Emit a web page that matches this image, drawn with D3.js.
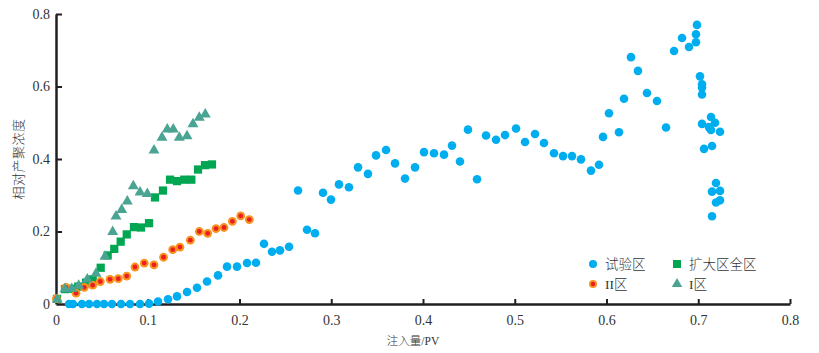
<!DOCTYPE html>
<html>
<head>
<meta charset="utf-8">
<script src="https://cdn.jsdelivr.net/npm/d3@7"></script>
<style>
  body { margin: 0; background: #fff; }
  svg text { fill: #231f20; }
  .tick text { font-family: "Liberation Serif", "DejaVu Serif", serif; font-size: 14px; }
  .cjk { font-family: "Liberation Serif", "Noto Sans CJK SC", serif; font-weight: 300; }
</style>
</head>
<body>
<svg id="chart" width="819" height="353"></svg>
<script>
// 试验区
const trial = [
  [0.0142,0],[0.0185,0],[0.0283,0],[0.036,0],[0.0447,0],[0.0523,0],[0.061,0],[0.0709,0],
  [0.0807,0],[0.0916,0],[0.1014,0.001],[0.1112,0.007],[0.1221,0.013],[0.1319,0.021],[0.1428,0.033],
  [0.1537,0.045],[0.1646,0.062],[0.1766,0.079],[0.1864,0.103],[0.1973,0.103],[0.2082,0.113],
  [0.218,0.114],[0.2267,0.166],[0.2354,0.144],[0.2441,0.148],[0.254,0.158],[0.2638,0.313],
  [0.2736,0.205],[0.2823,0.195],[0.291,0.307],[0.2997,0.288],[0.3084,0.33],[0.3193,0.322],
  [0.3292,0.377],[0.34,0.359],[0.3488,0.41],[0.3597,0.425],[0.3695,0.388],[0.3804,0.346],
  [0.3913,0.377],[0.4011,0.419],[0.412,0.416],[0.4229,0.412],[0.4316,0.437],[0.4403,0.393],
  [0.449,0.481],[0.4589,0.344],[0.4687,0.465],[0.4796,0.453],[0.4894,0.466],[0.5014,0.484],
  [0.5112,0.447],[0.5221,0.469],[0.5319,0.444],[0.5428,0.416],[0.5526,0.408],[0.5624,0.408],
  [0.5722,0.399],[0.5831,0.368],[0.5918,0.384],[0.5962,0.461],[0.6027,0.526],[0.6136,0.474],
  [0.6191,0.566],[0.6267,0.681],[0.6343,0.643],[0.6441,0.582],[0.655,0.56],[0.6649,0.487],
  [0.6736,0.698],[0.6823,0.734],[0.6899,0.709],[0.6975,0.722],[0.6975,0.744],[0.6986,0.77],
  [0.7019,0.628],[0.7041,0.606],[0.7041,0.597],[0.7041,0.578],[0.7041,0.497],[0.7117,0.488],
  [0.7139,0.516],[0.7139,0.48],[0.7183,0.5],[0.7237,0.475],[0.7063,0.428],[0.715,0.436],
  [0.7193,0.334],[0.715,0.31],[0.7237,0.312],[0.7193,0.28],[0.7237,0.286],[0.715,0.242]
];
// 扩大区全区
const expanded = [
  [0.0011,0.014],[0.0098,0.041],[0.0174,0.042],[0.0243,0.048],[0.0327,0.059],[0.04,0.068],
  [0.0487,0.1],[0.0563,0.134],[0.0635,0.152],[0.0705,0.172],[0.0771,0.192],[0.085,0.212],
  [0.0926,0.211],[0.1014,0.223],[0.1079,0.294],[0.1166,0.313],[0.1243,0.343],[0.1319,0.339],
  [0.1398,0.343],[0.1475,0.343],[0.1548,0.371],[0.1624,0.383],[0.17,0.385]
];
// II区
const zone2 = [
  [0.0005,0.015],[0.0109,0.046],[0.0218,0.03],[0.0308,0.046],[0.04,0.052],[0.0483,0.062],
  [0.0589,0.068],[0.0679,0.07],[0.0771,0.077],[0.0861,0.102],[0.0962,0.113],[0.1068,0.108],
  [0.1172,0.129],[0.1272,0.15],[0.1351,0.157],[0.1464,0.176],[0.1562,0.2],[0.1653,0.195],
  [0.1744,0.208],[0.1831,0.211],[0.1922,0.228],[0.2013,0.243],[0.2107,0.233]
];
// I区
const zone1 = [
  [0.0014,0.013],[0.0098,0.041],[0.0171,0.042],[0.0247,0.051],[0.0341,0.068],[0.0436,0.084],
  [0.0534,0.131],[0.0618,0.199],[0.0654,0.242],[0.0716,0.26],[0.0777,0.283],[0.0843,0.325],
  [0.0916,0.308],[0.0995,0.304],[0.1068,0.424],[0.1155,0.459],[0.1213,0.482],[0.1278,0.482],
  [0.1344,0.459],[0.1428,0.463],[0.1493,0.496],[0.1562,0.514],[0.1627,0.523]
];
const xTicks = [0, 0.1, 0.2, 0.3, 0.4, 0.5, 0.6, 0.7, 0.8];
const yTicks = [0, 0.2, 0.4, 0.6, 0.8];

const svg = d3.select("#chart");
const ink = "#231f20";

const x = d3.scaleLinear().domain([0, 0.8]).range([56, 790]);
const y = d3.scaleLinear().domain([0, 0.8]).range([304, 14]);

const fmt = d => d === 0 ? "0" : d3.format(".1f")(d);

// axes with inward ticks
const xAxis = svg.append("g")
  .attr("transform", "translate(0,304)")
  .call(d3.axisBottom(x).tickValues(xTicks).tickFormat(fmt).tickSizeInner(-5).tickSizeOuter(0).tickPadding(11));
const yAxis = svg.append("g")
  .attr("transform", "translate(56,0)")
  .call(d3.axisLeft(y).tickValues(yTicks).tickFormat(fmt).tickSizeInner(-6).tickSizeOuter(0).tickPadding(6));

[xAxis, yAxis].forEach(g => {
  g.select(".domain").attr("stroke", ink).attr("stroke-width", 2.5);
  g.selectAll(".tick line").attr("stroke", ink).attr("stroke-width", 2);
  g.selectAll(".tick text").style("fill", "#333");
});
xAxis.selectAll(".tick").filter(d => d === 0).select("line").remove();
yAxis.selectAll(".tick").filter(d => d === 0).select("line").remove();

// axis titles
svg.append("text").attr("class", "cjk")
  .attr("x", 413).attr("y", 345)
  .attr("text-anchor", "middle")
  .style("font-size", "11.5px")
  .style("fill", "#333")
  .text("注入量/PV");

svg.append("text").attr("class", "cjk")
  .attr("transform", "translate(23,159) rotate(-90)")
  .attr("text-anchor", "middle")
  .style("font-size", "13px")
  .style("letter-spacing", "0.5px")
  .style("fill", "#333")
  .text("相对产聚浓度");

const sym = (type, size) => d3.symbol().type(type).size(size)();

const plot = svg.append("g");

plot.selectAll(".trial").data(trial).enter().append("circle")
  .attr("cx", d => x(d[0])).attr("cy", d => y(d[1]))
  .attr("r", 4.3).attr("fill", "#00aeef");

plot.selectAll(".exp").data(expanded).enter().append("path")
  .attr("transform", d => `translate(${x(d[0])},${y(d[1])})`)
  .attr("d", sym(d3.symbolSquare, 68)).attr("fill", "#00a651");

const z2 = plot.selectAll(".z2").data(zone2).enter().append("g")
  .attr("transform", d => `translate(${x(d[0])},${y(d[1])})`);
z2.append("circle").attr("r", 4.4).attr("fill", "#f7941d");
z2.append("circle").attr("r", 2.4).attr("fill", "#ed1c24");

plot.selectAll(".z1").data(zone1).enter().append("path")
  .attr("transform", d => `translate(${x(d[0])},${y(d[1])})`)
  .attr("d", sym(d3.symbolTriangle, 52)).attr("fill", "#4aa493");

// legend
const legend = svg.append("g");
const items = [
  {label: "试验区", lx: 593, ly: 264, kind: "trial"},
  {label: "扩大区全区", lx: 677, ly: 264, kind: "exp"},
  {label: "II区", lx: 593, ly: 284, kind: "z2"},
  {label: "I区", lx: 677, ly: 284, kind: "z1"}
];
items.forEach(it => {
  const g = legend.append("g").attr("transform", `translate(${it.lx},${it.ly})`);
  if (it.kind === "trial") g.append("circle").attr("r", 4).attr("fill", "#00aeef");
  if (it.kind === "exp") g.append("path").attr("d", sym(d3.symbolSquare, 64)).attr("fill", "#00a651");
  if (it.kind === "z2") {
    g.append("circle").attr("r", 4).attr("fill", "#f7941d");
    g.append("circle").attr("r", 2.2).attr("fill", "#ed1c24");
  }
  if (it.kind === "z1") g.append("path").attr("d", sym(d3.symbolTriangle, 48)).attr("fill", "#4aa493");
  g.append("text").attr("class", "cjk")
    .attr("x", 12).attr("y", 5)
    .style("font-size", "13.5px")
    .style("fill", "#333")
    .text(it.label);
});
</script>
</body>
</html>
